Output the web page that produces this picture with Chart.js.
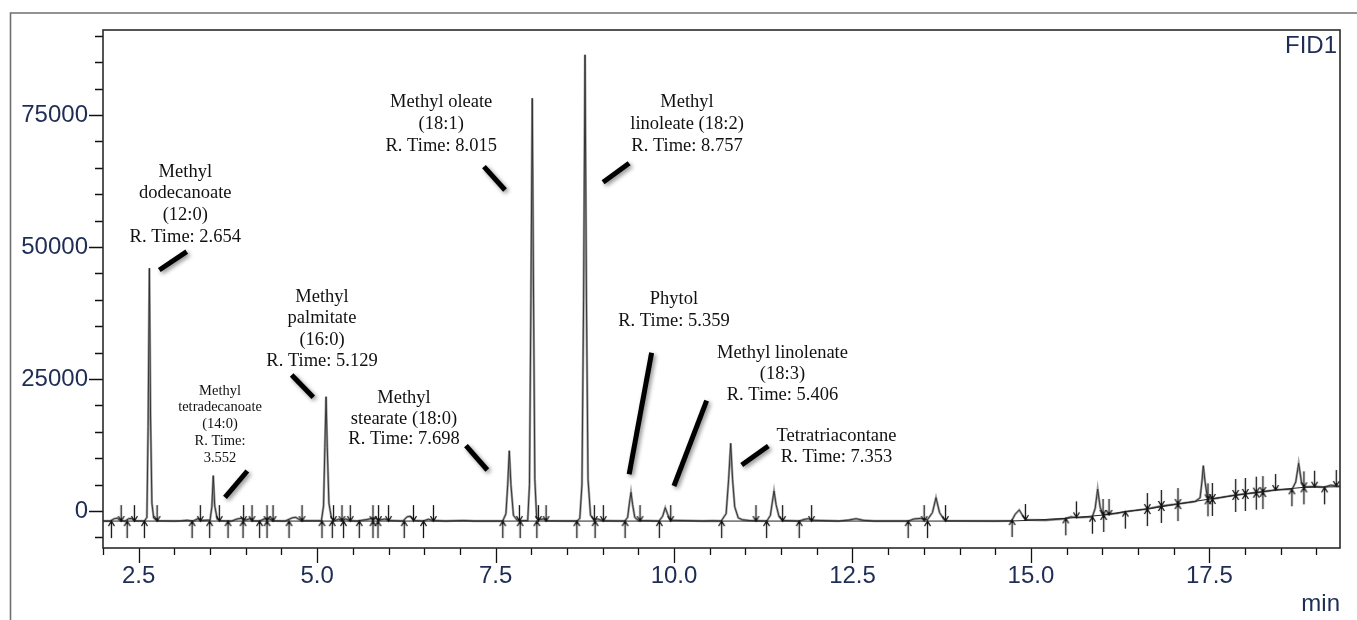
<!DOCTYPE html>
<html><head><meta charset="utf-8">
<script src="https://cdn.jsdelivr.net/npm/chart.js@4.4.1/dist/chart.umd.min.js"></script>
<style>html,body{margin:0;padding:0;background:#fff;}#wrap{width:1357px;height:620px;}</style>
</head><body><div id="wrap"><canvas id="c" width="1357" height="620"></canvas></div>
<script>
// ---- axis ranges ----
const X_MIN = 2.0, X_MAX = 19.33;
const Y_MIN = -7000, Y_MAX = 91100;
const X_STEP = 0.5, X_LABEL_STEP = 2.5;
const Y_STEP = 5000, Y_LABEL_STEP = 25000;
const DETECTOR = 'FID1';
const X_UNIT = 'min';

// ---- chromatogram signal: [time (min), response] ----
const SIGNAL = [
  [2.00,-1900],[2.10,-1900],[2.16,-1450],[2.20,-1350],[2.25,-1850],
  [2.31,-1900],[2.36,-1450],[2.40,-1400],[2.44,-1850],[2.58,-1900],
  [2.615,-1200],[2.632,16000],[2.650,46000],[2.666,18000],[2.685,1500],[2.71,-1300],[2.76,-1850],
  [3.00,-1900],[3.10,-1850],[3.18,-1750],[3.26,-1900],[3.33,-1450],[3.37,-1800],
  [3.50,-1700],[3.525,800],[3.545,6700],[3.565,1000],[3.60,-1500],[3.65,-1850],
  [3.80,-1900],[3.88,-1500],[3.95,-1350],[4.00,-1700],[4.06,-1450],[4.09,-1850],
  [4.19,-1900],[4.26,-1500],[4.31,-1350],[4.38,-1850],
  [4.55,-1900],[4.65,-1300],[4.70,-1200],[4.78,-1850],
  [5.06,-1850],[5.09,1000],[5.108,12000],[5.125,21650],[5.142,12000],[5.165,1500],[5.20,-1300],[5.25,-1800],
  [5.30,-1550],[5.35,-1850],[5.40,-1500],[5.46,-1850],
  [5.55,-1900],[5.70,-1600],[5.78,-1350],[5.82,-1400],[5.86,-1750],[5.95,-1500],[6.00,-1800],
  [6.20,-1900],[6.26,-1100],[6.30,-1000],[6.34,-1400],[6.37,-1800],
  [6.48,-1900],[6.56,-1550],[6.62,-1800],[6.80,-1900],[7.05,-1800],[7.20,-1900],
  [7.60,-1900],[7.645,-500],[7.67,5000],[7.692,11430],[7.715,5000],[7.75,-800],[7.80,-1700],[7.84,-1850],
  [7.95,-1800],[7.975,5000],[7.995,40000],[8.014,78170],[8.032,40000],[8.05,6000],[8.075,-1200],[8.10,-1350],[8.13,-1600],[8.17,-1500],[8.21,-1850],
  [8.64,-1900],[8.68,-1400],[8.71,5000],[8.733,40000],[8.753,86400],[8.773,40000],[8.795,6000],[8.83,-800],[8.88,-1600],[8.93,-1500],[8.97,-1700],[9.01,-1850],
  [9.31,-1900],[9.35,-1200],[9.375,1500],[9.397,3550],[9.42,1200],[9.45,-1200],[9.50,-1800],
  [9.79,-1900],[9.84,-1000],[9.877,630],[9.91,-600],[9.95,-1750],
  [10.40,-1900],[10.55,-1850],[10.66,-1900],[10.73,-500],[10.765,6000],[10.794,12830],[10.82,6000],[10.85,800],[10.90,-1300],[10.96,-1650],[11.05,-1800],[11.15,-1850],
  [11.30,-1900],[11.35,-800],[11.375,1500],[11.401,3800],[11.43,1200],[11.47,-1000],[11.52,-1800],
  [11.75,-1900],[11.82,-1600],[11.88,-1450],[11.93,-1750],
  [12.30,-1900],[12.45,-1700],[12.55,-1450],[12.65,-1750],[12.80,-1900],
  [13.28,-1900],[13.36,-1500],[13.45,-1400],[13.55,-1650],[13.62,-300],[13.67,2530],[13.72,-300],[13.78,-1600],[13.81,-1850],
  [14.50,-1900],[14.73,-1850],[14.78,-600],[14.837,200],[14.89,-1000],[14.93,-1650],
  [15.20,-1750],[15.48,-1450],[15.56,-1100],[15.64,-1250],
  [15.86,-1100],[15.90,500],[15.935,4170],[15.97,700],[16.01,-700],[16.09,-600],[16.20,-450],
  [16.33,-100],[16.63,400],[16.83,950],[17.06,1350],[17.30,1800],[17.37,2500],[17.395,5500],[17.415,8590],[17.44,5500],[17.47,2700],[17.55,2300],
  [17.87,3050],[18.00,3250],[18.16,3500],[18.25,3650],[18.43,4000],[18.66,4150],[18.71,5500],[18.751,9040],[18.79,5500],[18.83,4550],
  [18.97,4650],[19.10,4500],[19.20,4900],[19.28,4750],[19.33,4700]
];

// ---- integrator baseline: [time, response] ----
const BASELINE_TRACE = [
  [2.00,-1900],[14.70,-1900],[15.00,-1750],[15.49,-1380],[16.02,-750],[16.32,-120],
  [16.63,385],[17.06,1330],[17.48,2220],[18.00,3230],[18.43,3980],[18.82,4490],[19.33,4600]
];

// ---- integration markers ----
const FLAT_BASE = -1900;
const UP_FLAT_TIMES = [2.118,2.338,2.580,3.248,3.494,3.752,3.962,4.194,4.298,4.606,5.068,5.212,5.370,5.590,5.782,5.852,6.220,6.490,7.601,7.844,8.078,8.638,8.894,9.314,9.794,10.667,11.297,11.754,13.280,13.551];
const DOWN_FLAT_TIMES = [2.254,2.440,2.758,3.364,3.630,3.970,4.088,4.298,4.382,4.788,5.230,5.348,5.464,5.782,5.860,6.000,6.350,6.630,7.834,8.100,8.208,8.884,9.010,9.524,9.954,11.148,11.521,11.927,13.504,13.804];
const UP_LATE = [[14.736,-1700],[15.488,-1380],[15.861,-1070],[16.020,-750],[16.323,-120],[16.631,385],[16.827,955],[17.060,1330],[17.480,2220],[17.542,2280],[17.868,3040],[18.004,3230],[18.157,3480],[18.250,3600],[18.656,4120],[18.824,4490],[19.114,4490]];
const DOWN_LATE = [[14.923,-1700],[15.637,-1190],[16.010,-750],[16.094,-750],[16.631,385],[16.827,955],[17.060,1330],[17.480,2220],[17.542,2280],[17.868,3040],[18.004,3230],[18.157,3480],[18.250,3600],[18.428,3980],[18.824,4490],[18.974,4610],[19.278,4740]];

// ---- peak annotations (anchor in data units: time, response) ----
const PEAK_LABELS = [
  {lines:['Methyl','dodecanoate','(12:0)','R. Time: 2.654'], t:3.153, v:64265, size:18.5, gap:21.7},
  {lines:['Methyl','tetradecanoate','(14:0)','R. Time:','3.552'], t:3.639, v:22790, size:14.5, gap:16.8},
  {lines:['Methyl','palmitate','(16:0)','R. Time: 5.129'], t:5.068, v:40592, size:18.5, gap:21.5},
  {lines:['Methyl','stearate (18:0)','R. Time: 7.698'], t:6.217, v:21351, size:18.5, gap:20.5},
  {lines:['Methyl oleate','(18:1)','R. Time: 8.015'], t:6.738, v:77522, size:18.5, gap:22},
  {lines:['Methyl','linoleate (18:2)','R. Time: 8.757'], t:10.182, v:77522, size:18.5, gap:22},
  {lines:['Phytol','R. Time: 5.359'], t:9.999, v:40100, size:18.5, gap:21.4},
  {lines:['Methyl linolenate','(18:3)','R. Time: 5.406'], t:11.519, v:29987, size:18.5, gap:21.2},
  {lines:['Tetratriacontane','R. Time: 7.353'], t:12.276, v:14211, size:18.5, gap:21.3}
];
const LEADERS = [
  [2.789,45650,3.173,49115],
  [3.709,2602,4.022,7583],
  [4.643,25764,4.946,21540],
  [7.085,12374,7.384,7772],
  [7.337,65213,7.632,60800],
  [9.006,62258,9.371,65856],
  [9.686,29987,9.371,6958],
  [10.457,20896,9.999,4742],
  [10.948,8719,11.321,12317]
];

const TICK_COLOR = '#1f2d55';
const AX_FONT = {family:'"Liberation Sans", Arial, sans-serif', size:24};
const AX_FONT_CSS = '24px "Liberation Sans", Arial, sans-serif';

function pts(arr){ return arr.map(p => ({x:p[0], y:p[1]})); }

function stepTicks(min, max, step){
  const out = [];
  for (let k = Math.ceil(min / step - 1e-9); k * step <= max + 1e-9; k++) out.push({value: Math.round(k * step * 1000) / 1000});
  return out;
}

function arrowImg(dir){
  const c = document.createElement('canvas'); c.width = 9; c.height = 36;
  const g = c.getContext('2d'); g.strokeStyle = '#111'; g.lineWidth = 1.3;
  g.beginPath();
  if (dir === 'up') { g.moveTo(4.5,18); g.lineTo(4.5,35); g.moveTo(1.5,23); g.lineTo(4.5,18); g.lineTo(7.5,23); }
  else { g.moveTo(4.5,2); g.lineTo(4.5,18); g.moveTo(1.5,13); g.lineTo(4.5,18); g.lineTo(7.5,13); }
  g.stroke(); return c;
}
const UP_IMG = arrowImg('up'), DOWN_IMG = arrowImg('down');

const upPts = UP_FLAT_TIMES.map(t => ({x:t, y:FLAT_BASE})).concat(pts(UP_LATE));
const downPts = DOWN_FLAT_TIMES.map(t => ({x:t, y:FLAT_BASE})).concat(pts(DOWN_LATE));

const isMult = (v, s) => Math.abs(v / s - Math.round(v / s)) < 1e-6;

const decor = {
  id:'decor',
  beforeDraw(chart){
    const ctx = chart.ctx;
    ctx.save();
    ctx.fillStyle = '#fff'; ctx.fillRect(0,0,chart.width,chart.height);
    ctx.strokeStyle = '#707070'; ctx.lineWidth = 1.6;
    ctx.beginPath(); ctx.moveTo(10.5, chart.height); ctx.lineTo(10.5, 13); ctx.lineTo(chart.width, 13); ctx.stroke();
    ctx.restore();
  },
  afterDraw(chart){
    const ctx = chart.ctx, ca = chart.chartArea, xs = chart.scales.x, ys = chart.scales.y;
    ctx.save();
    // tick marks
    ctx.strokeStyle = '#111'; ctx.lineWidth = 1.3;
    ctx.beginPath();
    ys.ticks.forEach(tk => {
      const py = Math.round(ys.getPixelForValue(tk.value)) + 0.5;
      const len = isMult(tk.value, Y_LABEL_STEP) ? 14 : 8;
      ctx.moveTo(ca.left - len, py); ctx.lineTo(ca.left, py);
    });
    xs.ticks.forEach(tk => {
      const px = Math.round(xs.getPixelForValue(tk.value)) + 0.5;
      const len = isMult(tk.value, X_LABEL_STEP) ? 15 : 7;
      ctx.moveTo(px, ca.bottom); ctx.lineTo(px, ca.bottom + len);
    });
    ctx.stroke();
    // plot frame
    ctx.strokeStyle = '#2b2b2b'; ctx.lineWidth = 1.6;
    ctx.strokeRect(ca.left, ca.top, ca.right - ca.left, ca.bottom - ca.top);
    // detector label
    ctx.fillStyle = TICK_COLOR; ctx.font = AX_FONT_CSS;
    ctx.textAlign = 'right'; ctx.textBaseline = 'alphabetic';
    ctx.fillText(DETECTOR, ca.right - 3, ca.top + 23);
    // leader lines
    ctx.save();
    ctx.strokeStyle = '#000'; ctx.lineWidth = 5; ctx.lineCap = 'butt';
    ctx.shadowColor = 'rgba(0,0,0,0.45)'; ctx.shadowBlur = 4; ctx.shadowOffsetX = 2; ctx.shadowOffsetY = 2;
    LEADERS.forEach(l => {
      ctx.beginPath();
      ctx.moveTo(xs.getPixelForValue(l[0]), ys.getPixelForValue(l[1]));
      ctx.lineTo(xs.getPixelForValue(l[2]), ys.getPixelForValue(l[3]));
      ctx.stroke();
    });
    ctx.restore();
    // labels
    ctx.fillStyle = '#111'; ctx.textAlign = 'center'; ctx.textBaseline = 'middle';
    PEAK_LABELS.forEach(a => {
      ctx.font = a.size + 'px "Liberation Serif", "Times New Roman", serif';
      const px = xs.getPixelForValue(a.t), py = ys.getPixelForValue(a.v);
      a.lines.forEach((ln, i) => ctx.fillText(ln, px, py + i * a.gap));
    });
    ctx.restore();
  }
};

new Chart(document.getElementById('c'), {
  type:'scatter',
  data:{datasets:[
    {data:pts(SIGNAL), showLine:true, borderColor:'#a0a0a0', borderWidth:2.4, pointRadius:0, order:6, tension:0},
    {data:pts(BASELINE_TRACE), showLine:true, borderColor:'#222', borderWidth:1, pointRadius:0, order:5},
    {data:pts(SIGNAL), showLine:true, borderColor:'#2a2a2a', borderWidth:0.9, pointRadius:0, order:4, tension:0},
    {data:upPts, showLine:false, pointStyle:UP_IMG, pointRadius:5, order:2},
    {data:downPts, showLine:false, pointStyle:DOWN_IMG, pointRadius:5, order:1}
  ]},
  options:{
    responsive:false, animation:false, events:[], devicePixelRatio:1,
    layout:{padding:{left:0, right:17, top:30, bottom:0}},
    plugins:{legend:{display:false}, tooltip:{enabled:false}},
    scales:{
      x:{type:'linear', min:X_MIN, max:X_MAX,
        afterBuildTicks(s){ s.ticks = stepTicks(X_MIN, X_MAX, X_STEP); },
        afterFit(s){ s.height = 72; },
        grid:{display:false, drawTicks:false, tickLength:0}, border:{display:false},
        ticks:{autoSkip:false, maxRotation:0, minRotation:0, padding:14,
          color:TICK_COLOR, font:AX_FONT,
          callback(v){ return isMult(v, X_LABEL_STEP) ? Number(v).toFixed(1) : ''; }},
        title:{display:true, text:X_UNIT, align:'end', color:TICK_COLOR, font:AX_FONT, padding:{top:0, bottom:1}}
      },
      y:{type:'linear', min:Y_MIN, max:Y_MAX,
        afterBuildTicks(s){ s.ticks = stepTicks(Y_MIN, Y_MAX, Y_STEP); },
        afterFit(s){ s.width = 103; },
        grid:{display:false, drawTicks:false, tickLength:0}, border:{display:false},
        ticks:{autoSkip:false, padding:15,
          color:TICK_COLOR, font:AX_FONT,
          callback(v){ return isMult(v, Y_LABEL_STEP) ? String(Math.round(v)) : ''; }}
      }
    }
  },
  plugins:[decor]
});
</script>
</body></html>
